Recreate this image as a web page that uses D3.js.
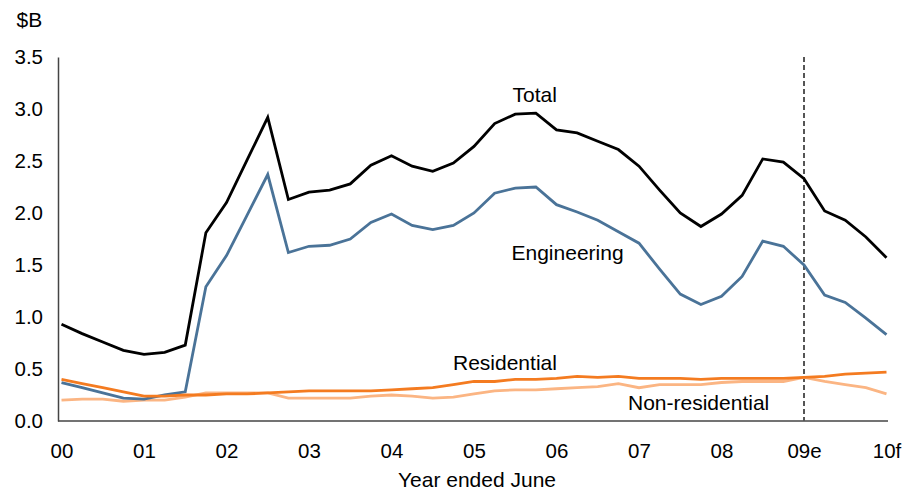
<!DOCTYPE html>
<html>
<head>
<meta charset="utf-8">
<script src="https://cdn.jsdelivr.net/npm/d3@7"></script>
<style>
  body { margin: 0; background: #fff; }
  text { font-family: "Liberation Sans", Arial, sans-serif; }
</style>
</head>
<body>
<div id="chart"></div>
<script>
// quarterly values, June 2000 to June 2010 ($B)
var total = [0.93, 0.84, 0.76, 0.68, 0.64, 0.66, 0.73, 1.81, 2.10, 2.51,
  2.92, 2.13, 2.20, 2.22, 2.28, 2.46, 2.55, 2.45, 2.40, 2.48,
  2.64, 2.86, 2.95, 2.96, 2.80, 2.77, 2.69, 2.61, 2.45, 2.22,
  2.00, 1.87, 1.99, 2.17, 2.52, 2.49, 2.33, 2.02, 1.93, 1.77, 1.57];
var engineering = [0.37, 0.32, 0.27, 0.22, 0.21, 0.25, 0.28, 1.29, 1.59, 1.98,
  2.37, 1.62, 1.68, 1.69, 1.75, 1.91, 1.99, 1.88, 1.84, 1.88,
  2.00, 2.19, 2.24, 2.25, 2.08, 2.01, 1.93, 1.82, 1.71, 1.46,
  1.22, 1.12, 1.20, 1.39, 1.73, 1.68, 1.50, 1.21, 1.14, 0.99, 0.83];
var residential = [0.40, 0.36, 0.32, 0.28, 0.24, 0.24, 0.25, 0.25, 0.26, 0.26,
  0.27, 0.28, 0.29, 0.29, 0.29, 0.29, 0.30, 0.31, 0.32, 0.35,
  0.38, 0.38, 0.40, 0.40, 0.41, 0.43, 0.42, 0.43, 0.41, 0.41,
  0.41, 0.40, 0.41, 0.41, 0.41, 0.41, 0.42, 0.43, 0.45, 0.46, 0.47];
var nonResidential = [0.20, 0.21, 0.21, 0.19, 0.20, 0.20, 0.23, 0.27, 0.27, 0.27,
  0.27, 0.22, 0.22, 0.22, 0.22, 0.24, 0.25, 0.24, 0.22, 0.23,
  0.26, 0.29, 0.30, 0.30, 0.31, 0.32, 0.33, 0.36, 0.32, 0.35,
  0.35, 0.35, 0.37, 0.38, 0.38, 0.38, 0.42, 0.38, 0.35, 0.32, 0.26];
var yearLabels = ["00", "01", "02", "03", "04", "05", "06", "07", "08", "09e", "10f"];
var yTicks = [0, 0.5, 1, 1.5, 2, 2.5, 3, 3.5];
var forecastStart = 36; // quarter index where estimates begin (09e)

var width = 922, height = 497;

var svg = d3.select("#chart")
  .append("svg")
  .attr("width", width)
  .attr("height", height);

var x = d3.scaleLinear()
  .domain([0, 40])
  .range([61.5, 886.5]);

var y = d3.scaleLinear()
  .domain([0, 3.5])
  .range([421, 57]);

// Y axis
var yAxis = svg.append("g")
  .attr("transform", "translate(58,0)")
  .call(d3.axisLeft(y).tickValues(yTicks).tickSize(0).tickPadding(15)
    .tickFormat(d3.format(".1f")));
yAxis.select(".domain").attr("stroke", "#444").attr("stroke-width", 1.5);
yAxis.selectAll("text")
  .style("font-size", "20.5px")
  .attr("fill", "#000");

// X axis
var xAxis = svg.append("g")
  .attr("transform", "translate(0,421)")
  .call(d3.axisBottom(x).tickValues(d3.range(0, 41, 4)).tickSize(0).tickPadding(22)
    .tickFormat(function (d) { return yearLabels[d / 4]; }));
xAxis.select(".domain")
  .attr("d", "M58,0H888")
  .attr("stroke", "#444").attr("stroke-width", 1.5);
xAxis.selectAll("text")
  .style("font-size", "20.5px")
  .attr("fill", "#000");

// forecast divider
svg.append("line")
  .attr("x1", x(forecastStart)).attr("x2", x(forecastStart))
  .attr("y1", y(3.5)).attr("y2", y(0))
  .attr("stroke", "#555")
  .attr("stroke-width", 2)
  .attr("stroke-dasharray", "5,3");

var line = d3.line()
  .x(function (d, i) { return x(i); })
  .y(function (d) { return y(d); });

var series = [
  { values: nonResidential, color: "#fbb583" },
  { values: engineering, color: "#4a7398" },
  { values: residential, color: "#f47b20" },
  { values: total, color: "#000000" }
];

svg.selectAll("path.series")
  .data(series)
  .enter()
  .append("path")
  .attr("class", "series")
  .attr("d", function (d) { return line(d.values); })
  .attr("fill", "none")
  .attr("stroke", function (d) { return d.color; })
  .attr("stroke-width", 2.8)
  .attr("stroke-linejoin", "miter");

// labels
var labels = [
  { text: "Total", x: 512.5, y: 102 },
  { text: "Engineering", x: 511.5, y: 259.5 },
  { text: "Residential", x: 453, y: 369.5 },
  { text: "Non-residential", x: 628, y: 410 },
  { text: "$B", x: 16.5, y: 27 },
  { text: "Year ended June", x: 398, y: 487 }
];

svg.selectAll("text.lbl")
  .data(labels)
  .enter()
  .append("text")
  .attr("class", "lbl")
  .attr("x", function (d) { return d.x; })
  .attr("y", function (d) { return d.y; })
  .style("font-size", "21px")
  .attr("fill", "#000")
  .text(function (d) { return d.text; });
</script>
</body>
</html>
